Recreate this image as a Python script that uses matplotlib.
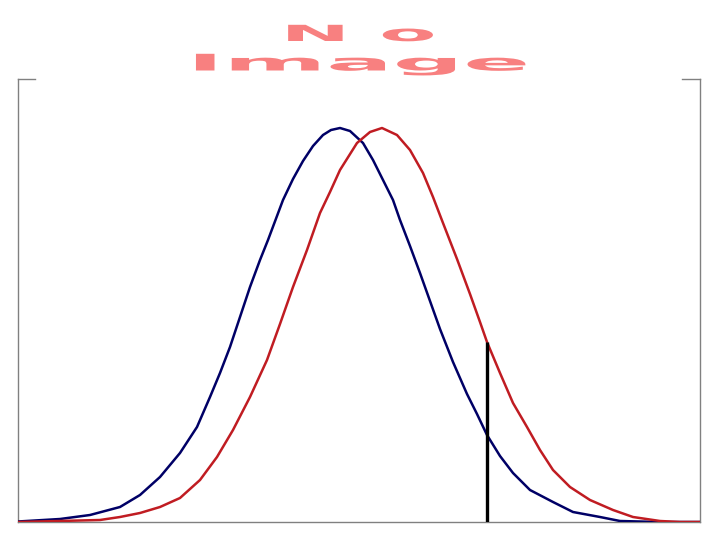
import matplotlib
matplotlib.use("Agg")
import matplotlib.pyplot as plt
from matplotlib.patheffects import AbstractPathEffect
from matplotlib.transforms import Affine2D

# ---- data (x measured from the left edge of the plot, heights above baseline) ----
blue_x = [0, 42, 72, 102, 122, 142, 162, 179, 192, 202, 212, 222, 232, 242, 250,
          259, 265, 275, 285, 295, 305, 313, 322, 332, 345, 355, 365, 375, 382, 392,
          402, 412, 422, 435, 449, 459, 469, 482, 495, 512, 535, 555, 582, 602, 642, 682]
blue_y = [0.5, 3, 7, 15, 27, 45, 69, 95, 125, 149, 175, 205, 235, 262, 282,
          306, 322, 343, 361, 376, 387, 392, 394, 391, 379, 362, 342, 322, 302, 276,
          249, 221, 193, 160, 128, 108, 87, 66, 49, 32, 20, 10, 5, 1, 0, 0]

red_x = [0, 82, 102, 122, 142, 162, 182, 199, 215, 232, 249, 262, 275, 289, 302,
         312, 322, 339, 352, 364, 379, 392, 405, 415, 425, 439, 452, 462, 469,
         482, 495, 509, 522, 535, 552, 572, 595, 615, 642, 662, 682]
red_y = [0, 2, 5, 9, 15, 24, 42, 65, 92, 125, 162, 198, 235, 272, 309,
         330, 352, 379, 390, 394, 387, 372, 349, 325, 299, 263, 228, 200, 180,
         149, 119, 95, 72, 52, 35, 22, 12, 5, 1, 0, 0]

cutoff_x = 469
cutoff_height = 180

title_lines = ["N o", "Image"]

BLUE = "#000066"
RED = "#c01c22"
GRAY = "#808080"
PINK = "#f88080"


class Stretch(AbstractPathEffect):
    """Stretch drawn text horizontally around its own centre."""
    def __init__(self, sx=1.0, sy=1.0):
        super().__init__()
        self.sx, self.sy = sx, sy

    def draw_path(self, renderer, gc, tpath, affine, rgbFace=None):
        bb = tpath.get_extents(affine)
        cx, cy = (bb.x0 + bb.x1) / 2, (bb.y0 + bb.y1) / 2
        new = affine + Affine2D().translate(-cx, -cy).scale(self.sx, self.sy).translate(cx, cy)
        renderer.draw_path(gc, tpath, new, rgbFace)


fig = plt.figure(figsize=(7.2, 5.4), dpi=100)
ax = fig.add_axes([18 / 720, 18 / 540, 682 / 720, (522 - 79) / 540])

ax.plot(blue_x, blue_y, color=BLUE, lw=1.8, zorder=3, solid_joinstyle="round")
ax.plot(red_x, red_y, color=RED, lw=1.8, zorder=3, solid_joinstyle="round")
ax.vlines(cutoff_x, 0, cutoff_height, color="black", lw=2.4, zorder=4)

ax.set_xlim(0, 682)
ax.set_ylim(0, 443)
ax.set_xticks([])
ax.set_yticks([])
for s in ["left", "right", "bottom"]:
    ax.spines[s].set_color(GRAY)
    ax.spines[s].set_linewidth(1.0)
ax.spines["top"].set_visible(False)
# short corner stubs of the top edge
ax.plot([0, 17 / 682], [1, 1], transform=ax.transAxes, color=GRAY, lw=1.0, clip_on=False)
ax.plot([1 - 18 / 682, 1], [1, 1], transform=ax.transAxes, color=GRAY, lw=1.0, clip_on=False)

fig.text(360 / 720, 1 - 35 / 540, title_lines[0], ha="center", va="center",
         fontsize=16, fontweight="bold", color=PINK, family="DejaVu Sans",
         path_effects=[Stretch(3.75, 1.0)])
fig.text(360 / 720, 1 - 64 / 540, title_lines[1], ha="center", va="center",
         fontsize=16.5, fontweight="bold", color=PINK, family="DejaVu Sans",
         path_effects=[Stretch(4.3, 1.0)])

fig.savefig("out.png", dpi=100, facecolor="white")
